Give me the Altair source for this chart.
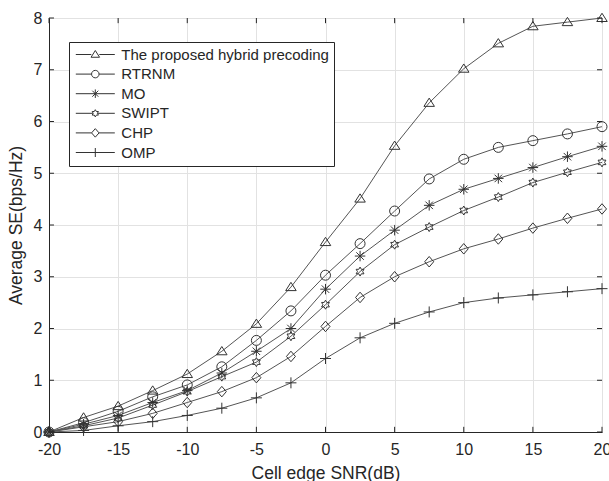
import altair as alt
import pandas as pd

# ---- data ----
snr = [-20, -17.5, -15, -12.5, -10, -7.5, -5, -2.5, 0, 2.5, 5, 7.5, 10, 12.5, 15, 17.5, 20]
proposed = [0, 0.28, 0.50, 0.80, 1.12, 1.56, 2.09, 2.80, 3.67, 4.51, 5.53, 6.36, 7.02, 7.51, 7.84, 7.92, 8.00]
rtrnm = [0, 0.18, 0.40, 0.68, 0.91, 1.26, 1.77, 2.34, 3.03, 3.64, 4.27, 4.89, 5.27, 5.50, 5.63, 5.76, 5.90]
mo = [0, 0.15, 0.32, 0.57, 0.80, 1.14, 1.56, 2.00, 2.76, 3.40, 3.90, 4.38, 4.69, 4.90, 5.11, 5.32, 5.52]
swipt = [0, 0.12, 0.27, 0.52, 0.78, 1.07, 1.35, 1.85, 2.46, 3.10, 3.62, 3.96, 4.28, 4.54, 4.82, 5.02, 5.21]
chp = [0, 0.10, 0.20, 0.36, 0.57, 0.78, 1.05, 1.46, 2.04, 2.60, 3.00, 3.29, 3.54, 3.73, 3.94, 4.13, 4.31]
omp = [0, 0.03, 0.12, 0.20, 0.32, 0.46, 0.66, 0.95, 1.42, 1.82, 2.10, 2.32, 2.50, 2.59, 2.65, 2.71, 2.77]

names = ["The proposed hybrid precoding", "RTRNM", "MO", "SWIPT", "CHP", "OMP"]
series = [proposed, rtrnm, mo, swipt, chp, omp]

x_ticks = [-20, -15, -10, -5, 0, 5, 10, 15, 20]
y_ticks = [0, 1, 2, 3, 4, 5, 6, 7, 8]

# ---- marker shapes ----
hexa = "M0,-0.9L0.26,-0.45L0.78,-0.45L0.52,0L0.78,0.45L0.26,0.45L0,0.9L-0.26,0.45L-0.78,0.45L-0.52,0L-0.78,-0.45L-0.26,-0.45Z"
marker_paths = [
    "M0,-0.95L1.05,0.7L-1.05,0.7Z",
    "M-1,0A1,1,0,1,1,1,0A1,1,0,1,1,-1,0Z",
    "M-1.05,0L1.05,0M0,-1.05L0,1.05M-0.75,-0.75L0.75,0.75M-0.75,0.75L0.75,-0.75",
    hexa,
    "M0,-1.05L0.9,0L0,1.05L-0.9,0Z",
    "M-1.1,0L1.1,0M0,-1.1L0,1.1",
]
legend_paths = [
    "M-3.9,0L-0.8,0M0.8,0L3.9,0M0,-0.8L0.85,0.55L-0.85,0.55Z",
    "M-3.9,0L-0.75,0M0.75,0L3.9,0M-0.75,0A0.75,0.75,0,1,1,0.75,0A0.75,0.75,0,1,1,-0.75,0Z",
    "M-3.9,0L3.9,0M0,-0.85L0,0.85M-0.6,-0.6L0.6,0.6M-0.6,0.6L0.6,-0.6",
    "M-3.9,0L-0.5,0M0.5,0L3.9,0M0,-0.72L0.21,-0.36L0.62,-0.36L0.42,0L0.62,0.36L0.21,0.36L0,0.72L-0.21,0.36L-0.62,0.36L-0.42,0L-0.62,-0.36L-0.21,-0.36Z",
    "M-3.9,0L-0.75,0M0.75,0L3.9,0M0,-0.85L0.75,0L0,0.85L-0.75,0Z",
    "M-3.9,0L3.9,0M0,-0.9L0,0.9",
]

rows = []
for n, vals in zip(names, series):
    for xv, yv in zip(snr, vals):
        rows.append({"snr": xv, "se": yv, "series": n})
df = pd.DataFrame(rows)

FONT = "Liberation Sans"
DARK = "#262626"

xs = alt.Scale(domain=[-20, 20], nice=False, zero=False)
ys = alt.Scale(domain=[0, 8], nice=False)

base = alt.Chart(df)

lines = base.mark_line(color="#555555", strokeWidth=1).encode(
    x=alt.X("snr:Q", scale=xs,
            axis=alt.Axis(values=x_ticks, title="Cell edge SNR(dB)", grid=True,
                          labelFontSize=16, titleFontSize=17.5, labelPadding=9,
                          titlePadding=7, labelFlush=False,
                          labelExpr="'' + datum.value")),
    y=alt.Y("se:Q", scale=ys,
            axis=alt.Axis(values=y_ticks, title="Average SE(bps/Hz)", grid=True,
                          labelFontSize=16, titleFontSize=17.5, labelPadding=7,
                          titlePadding=8, labelFlush=False,
                          labelExpr="'' + datum.value")),
    detail="series:N",
)

points = base.mark_point(filled=False, size=100, strokeWidth=1, color="#333333", opacity=1).encode(
    x=alt.X("snr:Q", scale=xs),
    y=alt.Y("se:Q", scale=ys),
    shape=alt.Shape("series:N", scale=alt.Scale(domain=names, range=marker_paths), legend=None),
)

legend_layer = base.mark_point(filled=False, size=100, color="#333333", opacity=1).encode(
    x=alt.X("snr:Q", scale=xs),
    y=alt.Y("se:Q", scale=ys),
    shape=alt.Shape(
        "series:N",
        scale=alt.Scale(domain=names, range=legend_paths),
        legend=alt.Legend(
            title=None, orient="none", legendX=20, legendY=24,
            fillColor="white", strokeColor=DARK, padding=5,
            symbolSize=100, symbolStrokeColor="#333333", symbolStrokeWidth=1,
            symbolFillColor="transparent", symbolOffset=13.8, labelOffset=18.5,
            labelFontSize=15, labelFont=FONT, labelColor=DARK, rowPadding=3.6,
            labelLimit=400,
        ),
    ),
).transform_filter("datum.snr > 100")

# inward tick marks (MATLAB style)
tx = pd.DataFrame({"t": x_ticks})
ty = pd.DataFrame({"t": y_ticks})
tick_bottom = alt.Chart(tx).mark_rule(color=DARK, strokeWidth=1).encode(
    x=alt.X("t:Q", scale=xs), y=alt.datum(0, scale=ys), y2=alt.datum(0.1))
tick_top = alt.Chart(tx).mark_rule(color=DARK, strokeWidth=1).encode(
    x=alt.X("t:Q", scale=xs), y=alt.datum(8, scale=ys), y2=alt.datum(7.9))
tick_left = alt.Chart(ty).mark_rule(color=DARK, strokeWidth=1).encode(
    y=alt.Y("t:Q", scale=ys), x=alt.datum(-20, scale=xs), x2=alt.datum(-19.64))
tick_right = alt.Chart(ty).mark_rule(color=DARK, strokeWidth=1).encode(
    y=alt.Y("t:Q", scale=ys), x=alt.datum(20, scale=xs), x2=alt.datum(19.64))

chart = alt.layer(
    lines, points, legend_layer, tick_bottom, tick_top, tick_left, tick_right
).resolve_scale(shape="independent").properties(
    width=553, height=414,
    autosize=alt.AutoSizeParams(type="none"),
    padding={"left": 49, "top": 18, "right": 7, "bottom": 49},
    background="white",
).configure_view(
    stroke=DARK, strokeWidth=1
).configure_axis(
    domainColor=DARK, gridColor="#e2e2e2", gridWidth=1, ticks=False,
    labelColor=DARK, titleColor=DARK, labelFont=FONT, titleFont=FONT,
    titleFontWeight="normal",
)

chart.save("out.html", embed_options={"renderer": "svg", "actions": False})
